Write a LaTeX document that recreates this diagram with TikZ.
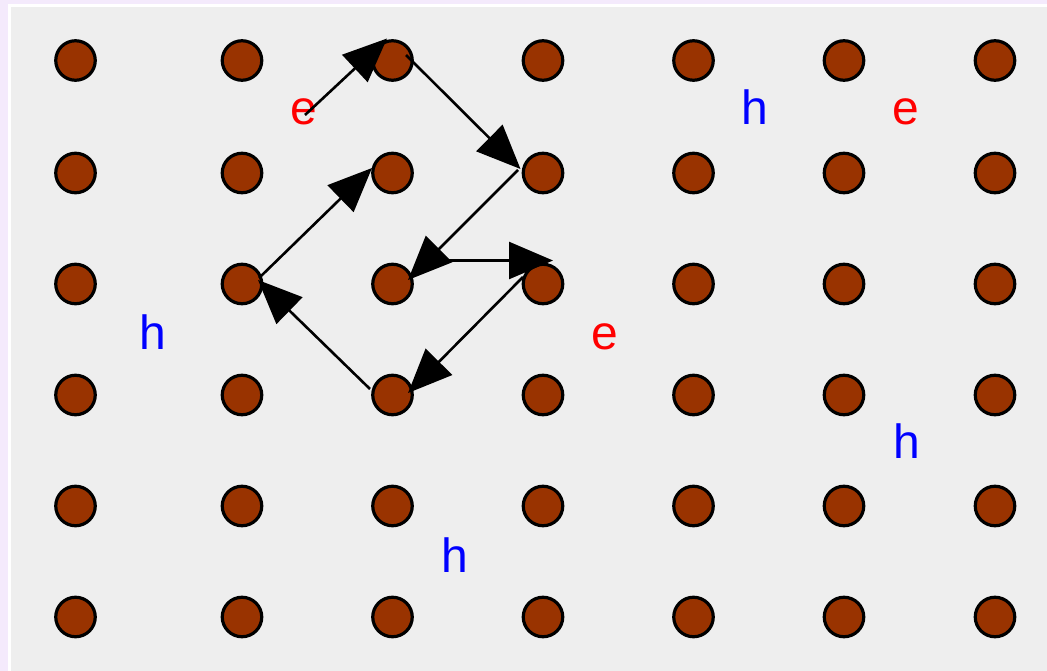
\documentclass[tikz,border=0pt]{standalone}
\usepackage{fontspec}
\setmainfont{Liberation Sans}
\usetikzlibrary{arrows.meta}
\definecolor{bgout}{HTML}{F4EAFC}
\definecolor{bgin}{HTML}{EEEEEE}
\definecolor{site}{HTML}{993300}
\definecolor{elab}{HTML}{FF0000}
\definecolor{hlab}{HTML}{0000FF}
\tikzset{
  atom/.style={circle, draw=black, fill=site, line width=3.2pt, minimum size=39.5pt, inner sep=0pt},
  lab/.style={anchor=base, inner sep=0pt, font=\fontsize{48}{48}\selectfont},
  hop/.style={draw=black, line width=2.6pt, -{Triangle[length=44pt, width=37pt]}}
}
\begin{document}
\begin{tikzpicture}[x=1pt, y=-1pt]
\useasboundingbox (0,0) rectangle (1047,671);
\fill[bgout] (0,0) rectangle (1047,671);
\fill[white] (8,4) rectangle (1047,671);
\fill[bgin] (11,7) rectangle (1047,671);
% lattice of sites
\foreach \c/\x in {1/75.5, 2/242, 3/392.5, 4/543, 5/693.5, 6/844, 7/995}{
  \foreach \r/\y in {1/60.5, 2/173, 3/284, 4/395, 5/506, 6/617}{
    \node[atom] (c\r\c) at (\x,\y) {};
  }
}
% labels
\node[lab, text=elab] (e1) at (303.5,125) {e};
\node[lab, text=hlab] (h1) at (755,125) {h};
\node[lab, text=elab] (e2) at (906,125) {e};
\node[lab, text=hlab] (h2) at (153,349) {h};
\node[lab, text=elab] (e3) at (605,349) {e};
\node[lab, text=hlab] (h3) at (906.5,458) {h};
\node[lab, text=hlab] (h4) at (454.5,572) {h};
% hop path end points
\coordinate (s1) at (305,115);
\coordinate (t1) at (387,38.5);
\coordinate (s2) at (406,55);
\coordinate (t2) at (520.5,169);
\coordinate (s3) at (518,170);
\coordinate (t3) at (408,280);
\coordinate (s4) at (447,260.5);
\coordinate (t4) at (553,260.5);
\coordinate (s5) at (523,277);
\coordinate (t5) at (408,393);
\coordinate (s6) at (370,389);
\coordinate (t6) at (258,280);
\coordinate (s7) at (259,278);
\coordinate (t7) at (372,168);
\foreach \i in {1,...,7}{
  \draw[hop] (s\i) -- (t\i);
}
\end{tikzpicture}
\end{document}
